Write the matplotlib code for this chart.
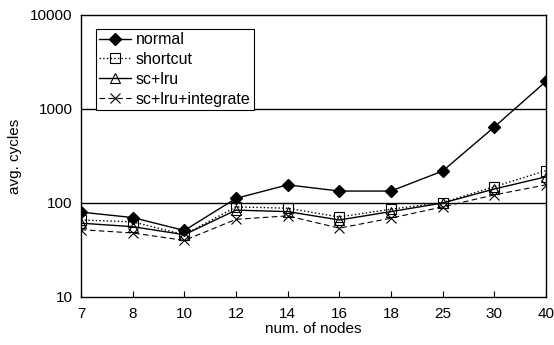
import matplotlib
matplotlib.use('Agg')
import matplotlib.pyplot as plt
from matplotlib.ticker import FixedLocator, NullLocator

plt.rcParams['font.family'] = ['Liberation Sans', 'DejaVu Sans']

nodes = ['7', '8', '10', '12', '14', '16', '18', '25', '30', '40']
normal = [80, 70, 51, 112, 156, 134, 134, 219, 644, 1970]
shortcut = [66, 63, 46, 91, 88, 71, 86, 101, 149, 221]
sc_lru = [61, 56, 46, 84, 81, 66, 81, 100, 141, 190]
sc_lru_int = [52, 48, 40, 67, 73, 54, 69, 91, 122, 156]

fig = plt.figure(figsize=(5.54, 3.45), dpi=100)
ax = fig.add_axes([81 / 554, 48 / 345, 465 / 554, 282 / 345])

x = range(len(nodes))
ax.plot(x, normal, color='black', lw=1, marker='D', ms=6.5, mfc='black', label='normal')
ax.plot(x, shortcut, color='black', lw=1, ls=':', marker='s', ms=7, mfc='none', mew=0.8, label='shortcut')
ax.plot(x, sc_lru, color='black', lw=1, marker='^', ms=7, mfc='none', mew=0.8, label='sc+lru')
ax.plot(x, sc_lru_int, color='black', lw=0.8, ls=(0, (5, 3)), marker='x', ms=7, mew=0.8, label='sc+lru+integrate')

ax.set_yscale('log')
ax.set_ylim(10, 10000)
ax.set_xlim(0, len(nodes) - 1)
ax.yaxis.set_major_locator(FixedLocator([10, 100, 1000, 10000]))
ax.yaxis.set_minor_locator(NullLocator())
ax.set_yticklabels(['10', '100', '1000', '10000'])
ax.set_xticks(list(x))
ax.set_xticklabels(nodes)
ax.tick_params(axis='x', direction='in', length=4, labelsize=11, pad=7)
ax.tick_params(axis='y', length=0, labelsize=11, pad=6)
for v in [100, 1000]:
    ax.axhline(v, color='black', lw=1, zorder=0)
for s in ax.spines.values():
    s.set_linewidth(1)

ax.set_xlabel('num. of nodes', fontsize=11, labelpad=1)
ax.set_ylabel('avg. cycles', fontsize=11, labelpad=6)

leg = ax.legend(loc='upper left', bbox_to_anchor=(0.032, 0.95), fontsize=11.5, frameon=True,
                fancybox=False, edgecolor='black', framealpha=1, handlelength=2.0,
                handletextpad=0.3, borderpad=0.2, labelspacing=0.3, borderaxespad=0)
leg.get_frame().set_linewidth(0.8)

fig.savefig('out.png', dpi=100)
